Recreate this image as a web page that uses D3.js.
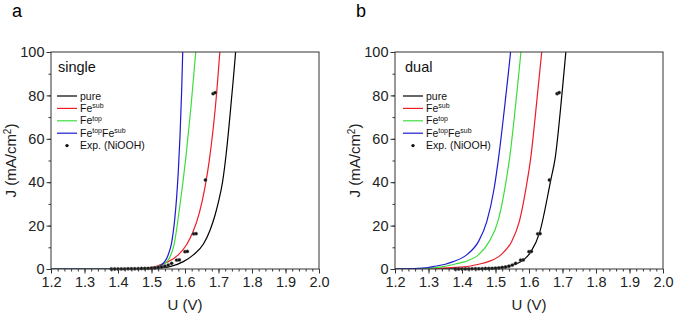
<!DOCTYPE html>
<html><head><meta charset="utf-8">
<script src="https://cdn.jsdelivr.net/npm/d3@7"></script>
<style>body{margin:0;background:#fff}svg{display:block;font-family:"Liberation Sans",Arial,sans-serif}</style>
</head><body><svg id="c" width="675" height="316"></svg>
<script>
// ---- data ----
const xTicks = [1.2,1.3,1.4,1.5,1.6,1.7,1.8,1.9,2.0];
const yTicks = [0,20,40,60,80,100];
const seriesNames = ["pure","Fe|sub","Fe|top","Fe|top|Fe|sub","Exp. (NiOOH)"];
const seriesColors = ["#000000","#ee1c25","#3ddc3d","#1c1cd0"];

// panel a (single)
const aPureV = [1.20,1.40,1.45,1.50,1.52,1.555,1.595,1.625,1.655,1.675,1.690,1.700,1.712,1.725,1.738,1.751,1.76];
const aPureJ = [0,0.02,0.1,0.3,0.5,1.1,3.4,6.5,11.5,18,25,31,40,56,77,100,120];
const aSubV  = [1.20,1.40,1.45,1.48,1.50,1.515,1.53,1.55,1.58,1.605,1.623,1.643,1.66,1.672,1.695,1.704,1.71];
const aSubJ  = [0,0.05,0.2,0.5,0.8,1.2,2.2,3.4,6.5,11.3,16.8,26,38,49.5,82,100,114];
const aTopV  = [1.20,1.45,1.50,1.52,1.534,1.553,1.567,1.585,1.603,1.618,1.632,1.64];
const aTopJ  = [0,0.1,0.5,1.2,1.9,4.9,11,29.5,52,75,100,115];
const aBothV = [1.20,1.40,1.45,1.48,1.50,1.52,1.53,1.54,1.55,1.56,1.57,1.575,1.58,1.585,1.59,1.595];
const aBothJ = [0,0,0.05,0.15,0.3,1.0,1.9,3.5,6.6,12,24,33,45,61,82,110];

// panel b (dual)
const bPureV = [1.20,1.40,1.45,1.50,1.533,1.565,1.583,1.606,1.631,1.665,1.678,1.698,1.710,1.715];
const bPureJ = [0,0.05,0.15,0.5,1.1,2.6,4.1,8,16.4,41,51,80,100,108];
const bSubV  = [1.20,1.30,1.35,1.414,1.45,1.479,1.516,1.548,1.571,1.591,1.605,1.625,1.638,1.645];
const bSubJ  = [0,0.15,0.5,1.1,2.2,3.4,6.5,12.6,21.8,37.2,51,80,100,110];
const bTopV  = [1.20,1.25,1.30,1.344,1.38,1.409,1.449,1.481,1.507,1.528,1.542,1.563,1.576,1.58];
const bTopJ  = [0.03,0.1,0.4,1.1,2.3,3.4,6.5,12.6,21.8,37.2,51,80,100,106];
const bBothV = [1.20,1.25,1.30,1.314,1.35,1.374,1.414,1.449,1.474,1.496,1.509,1.531,1.545,1.55];
const bBothJ = [0.05,0.2,0.7,1.1,2.2,3.4,6.5,12.6,21.8,37.2,51,80,100,108];

// experiment (same in both panels)
const expV = [1.38,1.39,1.40,1.41,1.42,1.43,1.44,1.45,1.46,1.47,1.48,1.49,1.50,1.51,1.52,1.53,1.54,1.55,1.56,1.575,1.583,1.600,1.607,1.626,1.633,1.661,1.684,1.690];
const expJ = [0,0,0,0.05,0.05,0.1,0.1,0.1,0.15,0.2,0.2,0.3,0.4,0.5,0.7,0.9,1.3,1.8,2.6,4.1,4.2,8.0,8.1,16.2,16.3,41,80.8,81.3];

const panels = [
  {letter:"a", tag:"single", left:51, right:319, lx:12, curves:[[aPureV,aPureJ],[aSubV,aSubJ],[aTopV,aTopJ],[aBothV,aBothJ]]},
  {letter:"b", tag:"dual", left:395, right:663, lx:356, curves:[[bPureV,bPureJ],[bSubV,bSubJ],[bTopV,bTopJ],[bBothV,bBothJ]]}
];
const plotTop = 52, plotBottom = 269;
const svg = d3.select("#c");
const axisColor = "#333";

panels.forEach((p,pi)=>{
  const x = d3.scaleLinear().domain([1.2,2.0]).range([p.left,p.right]);
  const y = d3.scaleLinear().domain([0,100]).range([plotBottom,plotTop]);
  const g = svg.append("g");
  g.append("text").attr("x",p.lx).attr("y",17).attr("font-size",18).text(p.letter);
  const cid = "clip"+pi;
  svg.append("clipPath").attr("id",cid).append("rect")
    .attr("x",p.left).attr("y",plotTop).attr("width",p.right-p.left).attr("height",plotBottom-plotTop);
  const line = d3.line().x(d=>x(d[0])).y(d=>y(d[1])).curve(d3.curveMonotoneX);
  p.curves.forEach((c,i)=>{
    const pts = c[0].map((v,k)=>[v,c[1][k]]);
    g.append("path").attr("clip-path",`url(#${cid})`).attr("d",line(pts))
      .attr("fill","none").attr("stroke",seriesColors[i]).attr("stroke-width",1.2);
  });
  g.selectAll("circle.e").data(expV.map((v,k)=>[v,expJ[k]])).enter().append("circle")
    .attr("cx",d=>x(d[0])).attr("cy",d=>y(d[1])).attr("r",1.7)
    .attr("fill","#111").attr("stroke","#777").attr("stroke-width",0.4);
  const xMinor = d3.range(1.2,2.0001,0.02);
  const yMinor = d3.range(0,100.001,10);
  const xa = g.append("g").attr("transform",`translate(0,${plotBottom})`)
    .call(d3.axisBottom(x).tickValues(xMinor).tickSize(2.5).tickFormat(""));
  xa.select(".domain").remove();
  const xA = g.append("g").attr("transform",`translate(0,${plotBottom})`)
    .call(d3.axisBottom(x).tickValues(xTicks).tickSize(4.5).tickPadding(3).tickFormat(d3.format(".1f")));
  xA.select(".domain").remove();
  const ya = g.append("g").attr("transform",`translate(${p.left},0)`)
    .call(d3.axisLeft(y).tickValues(yMinor).tickSize(2.5).tickFormat(""));
  ya.select(".domain").remove();
  const yA = g.append("g").attr("transform",`translate(${p.left},0)`)
    .call(d3.axisLeft(y).tickValues(yTicks).tickSize(4.5).tickPadding(2).tickFormat(d3.format("d")));
  yA.select(".domain").remove();
  g.selectAll(".tick line").attr("stroke",axisColor);
  g.selectAll(".tick text").attr("font-size",14.5).attr("font-family",'"Liberation Sans",Arial,sans-serif').attr("fill","#222");
  g.append("rect").attr("x",p.left).attr("y",plotTop).attr("width",p.right-p.left).attr("height",plotBottom-plotTop)
    .attr("fill","none").attr("stroke",axisColor).attr("stroke-width",1);
  g.append("text").attr("x",(p.left+p.right)/2).attr("y",310).attr("text-anchor","middle")
    .attr("font-size",15).attr("fill","#222").text("U (V)");
  const yt = g.append("text").attr("transform",`translate(${p.left-35},${(plotTop+plotBottom)/2}) rotate(-90)`)
    .attr("text-anchor","middle").attr("font-size",15).attr("fill","#222");
  yt.append("tspan").text("J (mA/cm");
  yt.append("tspan").attr("font-size",10).attr("dy",-5).text("2");
  yt.append("tspan").attr("dy",5).text(")");
  g.append("text").attr("x",p.left+(pi===0?7:10)).attr("y",72).attr("font-size",14.5).attr("fill","#111").text(p.tag);
  const lx0 = p.left + (pi===0?6:8);
  seriesNames.forEach((nm,i)=>{
    const yy = 96 + i*12.4;
    if(i<4){
      g.append("line").attr("x1",lx0).attr("x2",lx0+20).attr("y1",yy).attr("y2",yy)
        .attr("stroke",seriesColors[i]).attr("stroke-width",1.2);
    } else {
      g.append("circle").attr("cx",lx0+10).attr("cy",yy).attr("r",1.7).attr("fill","#111");
    }
    const t = g.append("text").attr("x",lx0+23).attr("y",yy+3.5).attr("font-size",10.5).attr("fill","#111");
    if(i===4){ t.text(nm); return; }
    const parts = nm.split("|");
    parts.forEach((s,k)=>{
      if(k%2===0){ t.append("tspan").attr("dy", k===0?0:3.5).text(s); }
      else { t.append("tspan").attr("font-size",7).attr("dy",-3.5).text(s); }
    });
  });
});
</script></body></html>
